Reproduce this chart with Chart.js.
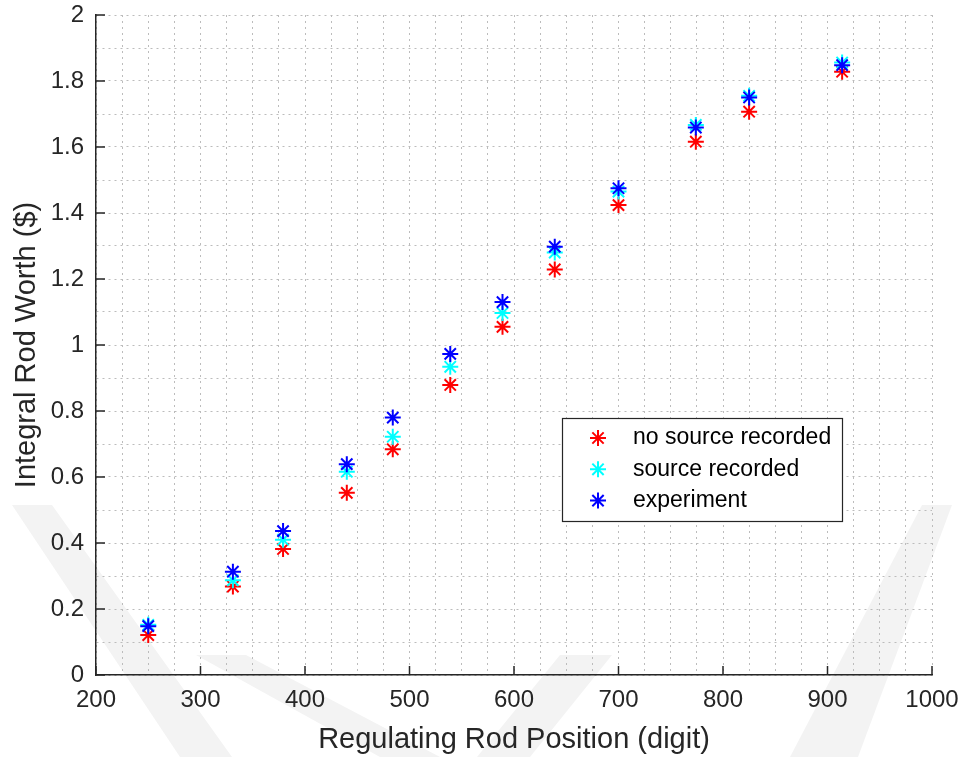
<!DOCTYPE html>
<html>
<head>
<meta charset="utf-8">
<title>Integral Rod Worth</title>
<script src="https://cdn.jsdelivr.net/npm/chart.js@4/dist/chart.umd.min.js"></script>
<style>
  html, body { margin: 0; padding: 0; background: #fff; }
  #wrap { width: 960px; height: 757px; }
</style>
</head>
<body>
<div id="wrap"><canvas id="chart" width="960" height="757"></canvas></div>
<script>
"use strict";

// regulating rod position (digit) for each measurement
const positions = [250, 331, 379, 440, 484, 539, 589, 639, 700, 774, 825, 914];

// integral rod worth ($)
const noSourceRecorded = [0.121, 0.268, 0.382, 0.552, 0.684, 0.879, 1.055, 1.229, 1.424, 1.616, 1.707, 1.828];
const sourceRecorded   = [0.152, 0.287, 0.410, 0.616, 0.722, 0.934, 1.097, 1.280, 1.465, 1.667, 1.755, 1.856];
const experiment       = [0.148, 0.313, 0.436, 0.639, 0.780, 0.973, 1.130, 1.298, 1.475, 1.659, 1.750, 1.848];

const seriesNames = ["no source recorded", "source recorded", "experiment"];
const seriesColors = ["#ff0000", "#00ffff", "#0000ff"];

const xMajorTicks = [200, 300, 400, 500, 600, 700, 800, 900, 1000];
const yMajorTicks = [0, 0.2, 0.4, 0.6, 0.8, 1, 1.2, 1.4, 1.6, 1.8, 2];

const FONT = "'Liberation Sans', Arial, Helvetica, sans-serif";
const INK = "#262626";
const GRID = "#bcbcbc";

const toPoints = values => values.map((v, i) => ({ x: positions[i], y: v }));
const isMajor = (v, list) => list.some(t => Math.abs(t - v) < 1e-6);

function drawStar(ctx, x, y, r) {
  const d = r * Math.SQRT1_2;
  ctx.beginPath();
  ctx.moveTo(x - r, y); ctx.lineTo(x + r, y);
  ctx.moveTo(x, y - r); ctx.lineTo(x, y + r);
  ctx.moveTo(x - d, y - d); ctx.lineTo(x + d, y + d);
  ctx.moveTo(x - d, y + d); ctx.lineTo(x + d, y - d);
  ctx.stroke();
}

// faint logo shapes behind the axes
const backdrop = {
  id: "backdrop",
  beforeDraw(chart) {
    const ctx = chart.ctx;
    const shapes = [
      [[12, 505], [52, 505], [232, 757], [180, 757]],
      [[196, 655], [246, 655], [440, 757], [380, 757]],
      [[612, 655], [560, 655], [477, 757], [530, 757]],
      [[922, 505], [952, 505], [858, 757], [790, 757]]
    ];
    ctx.save();
    ctx.fillStyle = "#f3f3f3";
    shapes.forEach(poly => {
      ctx.beginPath();
      poly.forEach(([px, py], i) => (i ? ctx.lineTo(px, py) : ctx.moveTo(px, py)));
      ctx.closePath();
      ctx.fill();
    });
    ctx.restore();
  }
};

// inward tick marks at the labelled values
const tickMarks = {
  id: "tickMarks",
  afterDatasetsDraw(chart) {
    const { ctx, scales: { x, y } } = chart;
    const len = 9;
    ctx.save();
    ctx.strokeStyle = INK;
    ctx.lineWidth = 1.5;
    ctx.beginPath();
    xMajorTicks.forEach(v => {
      const px = x.getPixelForValue(v);
      ctx.moveTo(px, y.bottom); ctx.lineTo(px, y.bottom - len);
    });
    yMajorTicks.forEach(v => {
      const py = y.getPixelForValue(v);
      ctx.moveTo(x.left, py); ctx.lineTo(x.left + len, py);
    });
    ctx.stroke();
    ctx.restore();
  }
};

// boxed legend inside the plot area
const boxLegend = {
  id: "boxLegend",
  afterDraw(chart) {
    const ctx = chart.ctx;
    const box = { left: 562, top: 418, width: 280, height: 103 };
    ctx.save();
    ctx.fillStyle = "#fff";
    ctx.fillRect(box.left, box.top, box.width, box.height);
    ctx.strokeStyle = INK;
    ctx.lineWidth = 1.2;
    ctx.strokeRect(box.left + 0.5, box.top + 0.5, box.width, box.height);
    ctx.font = "23px " + FONT;
    ctx.textBaseline = "middle";
    ctx.textAlign = "left";
    chart.data.datasets.forEach((ds, i) => {
      const rowY = box.top + 20 + i * 31.3;
      ctx.strokeStyle = ds.borderColor;
      ctx.lineWidth = 2;
      drawStar(ctx, 598, rowY, 8);
      ctx.fillStyle = "#000";
      ctx.fillText(ds.label, 633, rowY);
    });
    ctx.restore();
  }
};

const seriesValues = [noSourceRecorded, sourceRecorded, experiment];

new Chart(document.getElementById("chart"), {
  type: "scatter",
  data: {
    datasets: seriesValues.map((values, i) => ({
      label: seriesNames[i],
      data: toPoints(values),
      pointStyle: "star",
      pointRadius: 8,
      pointHoverRadius: 8,
      borderWidth: 2,
      borderColor: seriesColors[i],
      backgroundColor: seriesColors[i],
      order: 2 - i
    }))
  },
  options: {
    responsive: false,
    animation: false,
    layout: { padding: { left: 0, right: 28, top: 15, bottom: 0 } },
    plugins: {
      legend: { display: false },
      tooltip: { enabled: false }
    },
    scales: {
      x: {
        type: "linear",
        min: 200,
        max: 1000,
        // fixed axis box; edge labels may overhang the plot area
        afterFit: scale => {
          scale.height = 82;
          scale.paddingLeft = 0;
          scale.paddingRight = 0;
        },
        ticks: {
          stepSize: 25,
          autoSkip: false,
          maxRotation: 0,
          padding: 11,
          color: INK,
          font: { family: FONT, size: 24 },
          callback: v => (isMajor(v, xMajorTicks) ? String(v) : "")
        },
        grid: { drawTicks: false, color: GRID, lineWidth: 1 },
        // dotted grid lines; the axis line itself stays solid
        border: { display: true, color: INK, width: 1.5, dash: [2, 4] },
        title: {
          display: true,
          text: "Regulating Rod Position (digit)",
          color: INK,
          font: { family: FONT, size: 29 },
          padding: { top: 0, bottom: 0 }
        }
      },
      y: {
        type: "linear",
        min: 0,
        max: 2,
        afterFit: scale => {
          scale.width = 96;
          scale.paddingTop = 0;
          scale.paddingBottom = 0;
        },
        ticks: {
          stepSize: 0.1,
          autoSkip: false,
          padding: 12,
          color: INK,
          font: { family: FONT, size: 24 },
          callback: v => (isMajor(v, yMajorTicks) ? String(Math.round(v * 10) / 10) : "")
        },
        grid: { drawTicks: false, color: GRID, lineWidth: 1 },
        border: { display: true, color: INK, width: 1.5, dash: [2, 4] },
        title: {
          display: true,
          text: "Integral Rod Worth ($)",
          color: INK,
          font: { family: FONT, size: 29 },
          padding: { top: 10, bottom: 0 }
        }
      }
    }
  },
  plugins: [backdrop, tickMarks, boxLegend]
});
</script>
</body>
</html>
